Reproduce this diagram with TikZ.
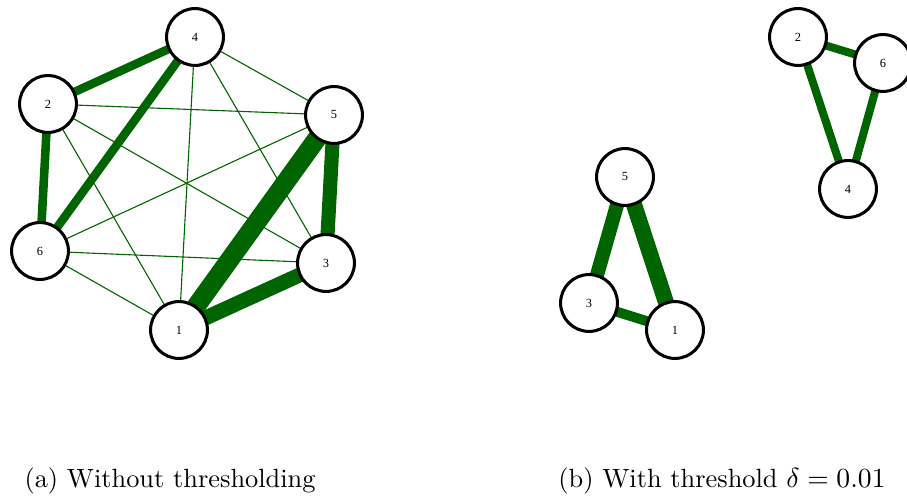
\documentclass[tikz,border=0pt]{standalone}
\usepackage{fontspec}
\newfontfamily\vertexfont{Liberation Serif}
\usetikzlibrary{backgrounds}
\definecolor{edgegreen}{HTML}{006400}

\begin{document}
\begin{tikzpicture}[x=0.3623pt,y=-0.3623pt,
    vertex/.style={draw,circle,fill=white,line width=1.1pt,
      minimum size=20.6pt,inner sep=0pt,
      font=\vertexfont\fontsize{4.5}{5}\selectfont},
    wedge/.style={draw=edgegreen,line width=#1},
    caption/.style={anchor=base,font=\fontsize{9.55}{11}\selectfont}]
  \useasboundingbox (0,0) rectangle (907,498);
  % (a) without thresholding
  \node[vertex] (a1) at (179,330) {1};
  \node[vertex] (a2) at (48,104) {2};
  \node[vertex] (a3) at (326,263) {3};
  \node[vertex] (a4) at (195,37) {4};
  \node[vertex] (a5) at (334,115) {5};
  \node[vertex] (a6) at (40,251) {6};
  % (b) with threshold
  \node[vertex] (b1) at (675,330) {1};
  \node[vertex] (b2) at (798,37) {2};
  \node[vertex] (b3) at (589,303) {3};
  \node[vertex] (b4) at (848,189) {4};
  \node[vertex] (b5) at (625,177) {5};
  \node[vertex] (b6) at (883,63) {6};
  \begin{scope}[on background layer]
    \foreach \i/\j in {4/5,4/1,4/3,2/5,2/3,2/1,5/6,6/3,6/1}
      \draw[wedge=0.4pt] (a\i.center) -- (a\j.center);
    \draw[wedge=3.1pt] (a4.center) -- (a2.center);
    \draw[wedge=3.1pt] (a4.center) -- (a6.center);
    \draw[wedge=3.1pt] (a2.center) -- (a6.center);
    \draw[wedge=5.1pt] (a5.center) -- (a3.center);
    \draw[wedge=5.4pt] (a3.center) -- (a1.center);
    \draw[wedge=6.9pt] (a5.center) -- (a1.center);
    \draw[wedge=2.9pt] (b2.center) -- (b6.center);
    \draw[wedge=2.9pt] (b2.center) -- (b4.center);
    \draw[wedge=2.9pt] (b6.center) -- (b4.center);
    \draw[wedge=3.6pt] (b3.center) -- (b1.center);
    \draw[wedge=5.1pt] (b5.center) -- (b3.center);
    \draw[wedge=5.8pt] (b5.center) -- (b1.center);
  \end{scope}
  % captions
  \node[caption] (capa) at (170,488) {(a) Without thresholding};
  \node[caption] (capb) at (722,488) {(b) With threshold $\delta=0.01$};
\end{tikzpicture}
\end{document}
